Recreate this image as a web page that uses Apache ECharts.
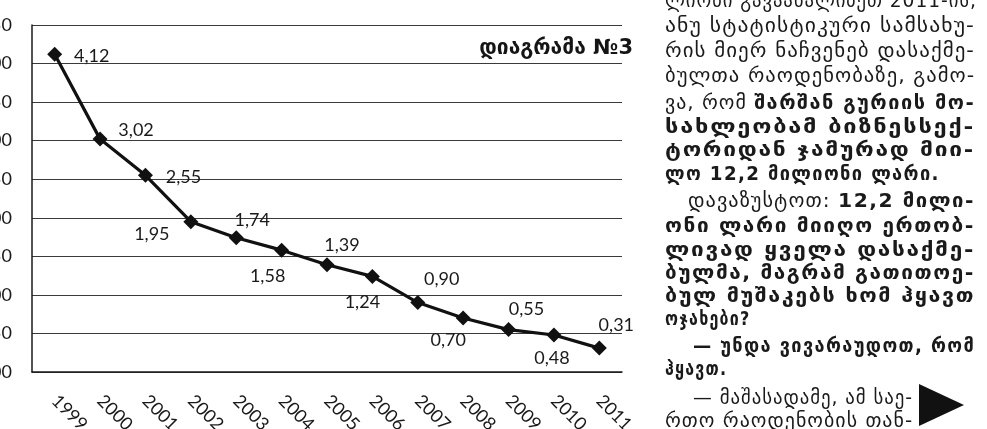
<!DOCTYPE html>
<html>
<head>
<meta charset="utf-8">
<script src="https://cdn.jsdelivr.net/npm/echarts@6/dist/echarts.min.js"></script>
<style>
  html, body { margin: 0; padding: 0; background: #fff; }
  #wrap { position: relative; width: 987px; height: 429px; overflow: hidden; background: #fff; }
  #chart { position: absolute; left: 0; top: 0; width: 987px; height: 429px; }
  #article { position: absolute; left: 0; top: 0; width: 987px; height: 429px; pointer-events: none;
    font-family: "DejaVu Sans", "Noto Sans", sans-serif; font-size: 20px; color: #1a1a1a; }
  .ln { position: absolute; height: 24px; line-height: 24px; white-space: nowrap; letter-spacing: 1px; transform-origin: 0 50%; }
  .b { font-weight: bold; letter-spacing: 1.5px; }
  #tri { position: absolute; left: 919px; top: 384px; width: 0; height: 0;
    border-top: 21px solid transparent; border-bottom: 21px solid transparent; border-left: 45px solid #111; }
</style>
</head>
<body>
<div id="wrap">
  <div id="chart"></div>
  <div id="article"></div>
  <div id="tri"></div>
</div>
<script>
// ---- data ----
const years = ['1999','2000','2001','2002','2003','2004','2005','2006','2007','2008','2009','2010','2011'];
const values = [4.12, 3.02, 2.55, 1.95, 1.74, 1.58, 1.39, 1.24, 0.90, 0.70, 0.55, 0.48, 0.31];
const yMin = 0, yMax = 4.5, yStep = 0.5;
const chartTitle = 'დიაგრამა №3';

// article column text (line by line); w = width the printed line spans
const articleLines = [
  { cy: 0,   x: 665, w: 312, parts: [['ლიონი გავაანალიზეთ 2011-ის,', 0]] },
  { cy: 25,  x: 665, w: 310, parts: [['ანუ სტატისტიკური სამსახუ-', 0]] },
  { cy: 50,  x: 665, w: 310, parts: [['რის მიერ ნაჩვენებ დასაქმე-', 0]] },
  { cy: 75,  x: 665, w: 310, parts: [['ბულთა რაოდენობაზე, გამო-', 0]] },
  { cy: 102, x: 665, w: 310, parts: [['ვა, რომ ', 0], ['შარშან გურიის მო-', 1]] },
  { cy: 126, x: 665, w: 310, parts: [['სახლეობამ ბიზნესსექ-', 1]] },
  { cy: 149, x: 665, w: 310, parts: [['ტორიდან ჯამურად მიი-', 1]] },
  { cy: 173, x: 665, w: 275, parts: [['ლო 12,2 მილიონი ლარი.', 1]] },
  { cy: 200, x: 688, w: 287, parts: [['დავაზუსტოთ: ', 0], ['12,2 მილი-', 1]] },
  { cy: 225, x: 665, w: 310, parts: [['ონი ლარი მიიღო ერთობ-', 1]] },
  { cy: 249, x: 665, w: 310, parts: [['ლივად ყველა დასაქმე-', 1]] },
  { cy: 272, x: 665, w: 310, parts: [['ბულმა, მაგრამ გათითოე-', 1]] },
  { cy: 295, x: 665, w: 310, parts: [['ბულ მუშაკებს ხომ ჰყავთ', 1]] },
  { cy: 318, x: 665, w: 80,  parts: [['ოჯახები?', 1]] },
  { cy: 345, x: 693, w: 282, parts: [['— უნდა ვივარაუდოთ, რომ', 1]] },
  { cy: 368, x: 665, w: 46,  parts: [['ჰყავთ.', 1]] },
  { cy: 397, x: 693, w: 220, parts: [['— მაშასადამე, ამ საე-', 0]] },
  { cy: 420, x: 665, w: 248, parts: [['რთო რაოდენობის თან-', 0]] }
];

// ---- style (label placement around each marker) ----
const labelOffsets = [[37,2],[36,-9],[38,2],[-39,13],[16,-18],[-14,26],[15,-20],[-10,26],[24,-23],[-15,22],[18,-20],[-2,23],[17,-23]];

const fmt = v => Number(v).toFixed(2).replace('.', ',');

const chart = echarts.init(document.getElementById('chart'), null, { renderer: 'canvas' });
chart.setOption({
  backgroundColor: '#fff',
  animation: false,
  title: {
    text: chartTitle,
    right: 349,
    top: 33,
    textStyle: { fontFamily: 'DejaVu Sans', fontWeight: 'bold', fontSize: 21, color: '#151515' }
  },
  grid: { left: 32, right: 365, top: 25, bottom: 57, containLabel: false, outerBoundsMode: 'none' },
  xAxis: {
    type: 'category',
    data: years,
    boundaryGap: true,
    axisLine: { show: true, lineStyle: { color: '#1a1a1a', width: 1.5 } },
    axisTick: { show: false },
    axisLabel: { rotate: -45, margin: 26, interval: 0, fontFamily: 'Lato', fontSize: 18, color: '#1a1a1a' }
  },
  yAxis: {
    type: 'value',
    min: yMin, max: yMax, interval: yStep,
    axisLine: { show: true, lineStyle: { color: '#1a1a1a', width: 1.5 } },
    axisTick: { show: false },
    axisLabel: { margin: 20, fontFamily: 'Lato', fontSize: 18, color: '#1a1a1a', formatter: fmt },
    splitLine: { show: true, lineStyle: { color: '#3a3a3a', width: 1 } }
  },
  series: [{
    type: 'line',
    data: values.map((v, i) => ({ value: v, label: { offset: labelOffsets[i] } })),
    symbol: 'diamond',
    symbolSize: 15,
    lineStyle: { color: '#111', width: 3.2 },
    itemStyle: { color: '#111' },
    label: {
      show: true, position: 'inside',
      fontFamily: 'Lato', fontSize: 18, color: '#1a1a1a',
      formatter: p => fmt(p.value)
    }
  }]
});

// article text column: each printed line stretched horizontally to its printed width
const art = document.getElementById('article');
articleLines.forEach(l => {
  const d = document.createElement('div');
  d.className = 'ln';
  d.style.left = l.x + 'px';
  d.style.top = (l.cy - 12) + 'px';
  l.parts.forEach(([t, bold]) => {
    const s = document.createElement('span');
    s.textContent = t;
    if (bold) s.className = 'b';
    d.appendChild(s);
  });
  art.appendChild(d);
  const natural = d.getBoundingClientRect().width;
  const sx = Math.max(0.8, Math.min(1.6, l.w / natural));
  d.style.transform = 'scaleX(' + sx.toFixed(3) + ')';
});
</script>
</body>
</html>
